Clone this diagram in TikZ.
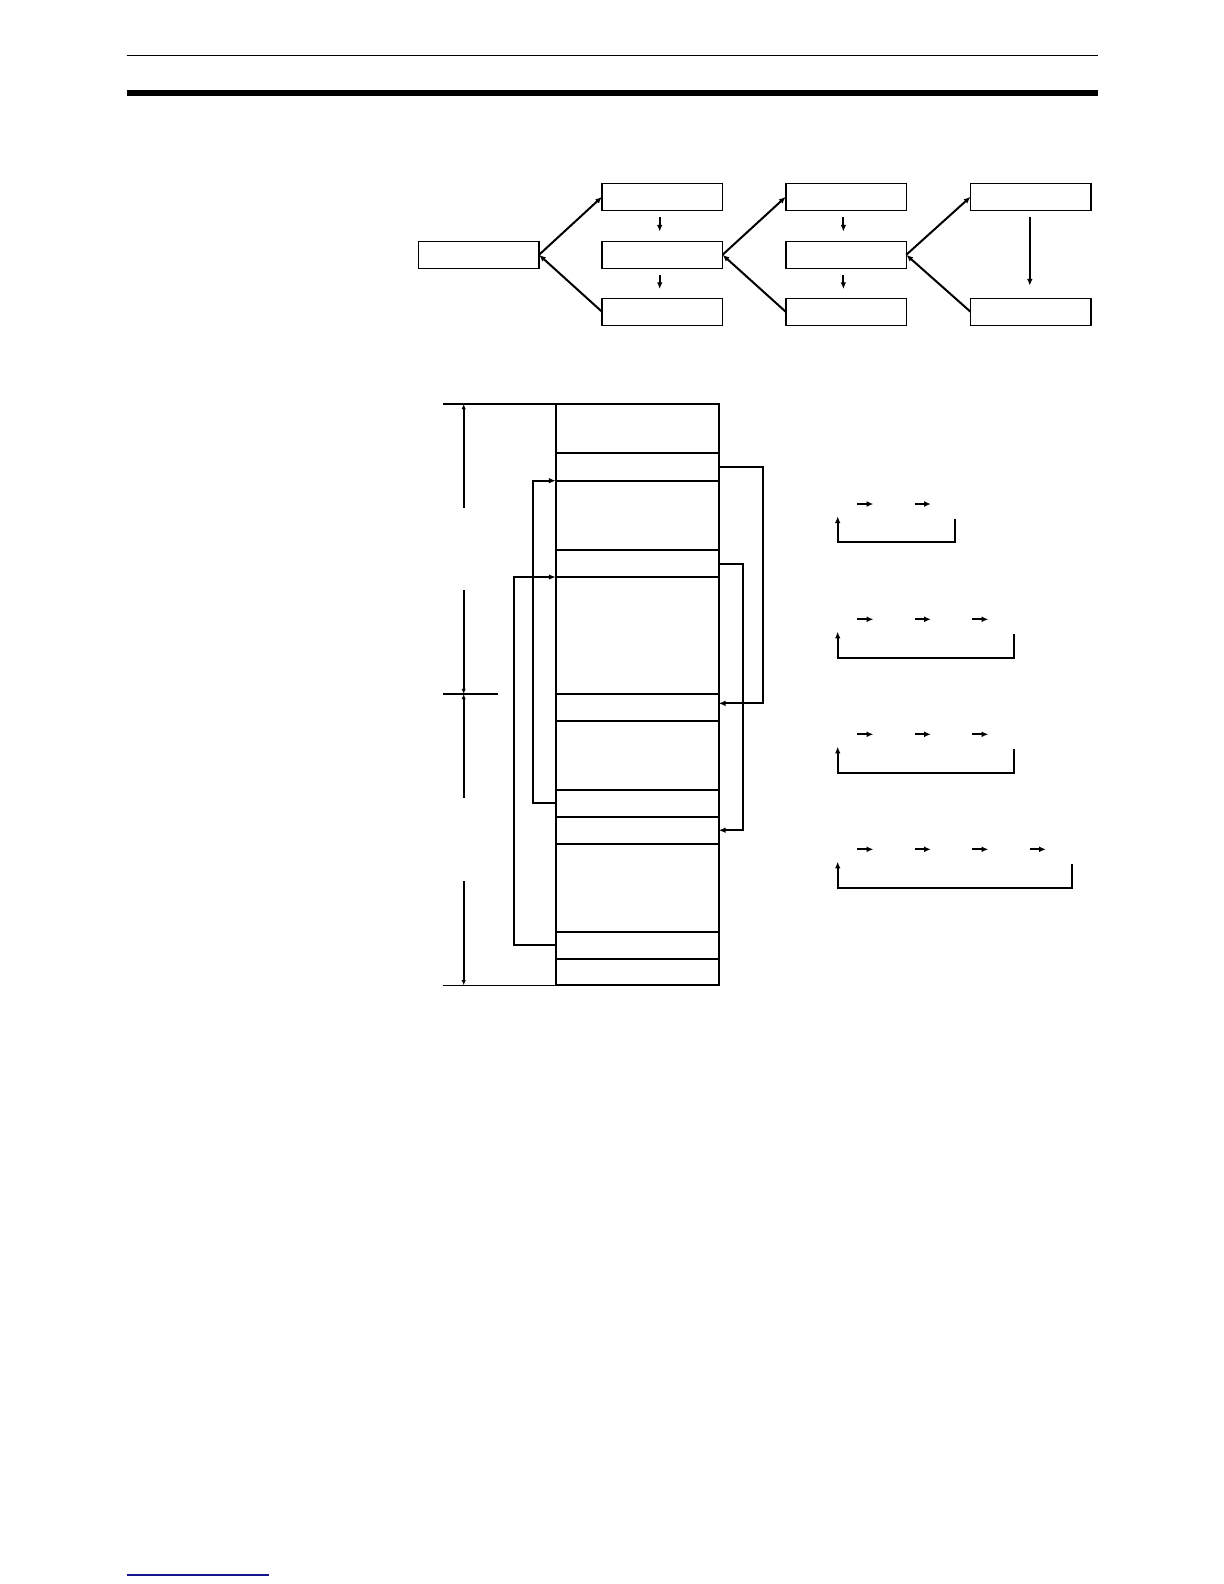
\documentclass[tikz,border=0pt]{standalone}
\usetikzlibrary{arrows.meta,fit,calc}
\definecolor{navy}{RGB}{20,20,140}
\tikzset{
  box/.style={draw, line width=0.75pt, minimum width=60.25pt, minimum height=13.5pt, inner sep=0pt, outer sep=0pt},
  row/.style={draw, line width=1.15pt, inner sep=0pt, outer sep=0pt},
  conn/.style={line width=1pt},
  tipA/.style={-{Latex[length=3.4pt,width=2.8pt]}},
  dimA/.style={line width=1pt,-{Latex[length=2.6pt,width=2.2pt]}},
  dimB/.style={line width=1pt,{Latex[length=2.6pt,width=2.2pt]}-},
  loop/.style={line width=1pt},
}
\begin{document}
\begin{tikzpicture}[x=0.5pt,y=-0.5pt]
\useasboundingbox (0,0) rectangle (1224,1584);
% header rules
\coordinate (h1l) at (126.7,55.3); \coordinate (h1r) at (1097.5,55.3);
\coordinate (h2l) at (126.7,93); \coordinate (h2r) at (1097.5,93);
\draw[line width=0.6pt] (h1l) -- (h1r);
\draw[line width=3pt] (h2l) -- (h2r);
% footer rule
\coordinate (f1) at (127,1575); \coordinate (f2) at (269,1575);
\draw[navy, line width=0.7pt] (f1) -- (f2);

% ---------- top diagram ----------
\node[box] (A) at (478.8,254.8) {};
\node[box] (c1t) at (662.3,196.8) {};
\node[box] (c1m) at (662.3,254.8) {};
\node[box] (c1b) at (662.3,311.8) {};
\node[box] (c2t) at (846,196.8) {};
\node[box] (c2m) at (846,254.8) {};
\node[box] (c2b) at (846,311.8) {};
\node[box] (c3t) at (1030.8,196.8) {};
\node[box] (c3b) at (1030.8,311.8) {};

\draw[conn,tipA] (A.east) -- (c1t.west);
\draw[conn,tipA] (c1b.west) -- (A.east);
\draw[conn,tipA] (c1m.east) -- (c2t.west);
\draw[conn,tipA] (c2b.west) -- (c1m.east);
\draw[conn,tipA] (c2m.east) -- (c3t.west);
\draw[conn,tipA] (c3b.west) -- (c2m.east);

\draw[conn,tipA] ([xshift=-1.3pt,yshift=-3.5pt]c1t.south) -- ([xshift=-1.3pt,yshift=4.8pt]c1m.north);
\draw[conn,tipA] ([xshift=-1.3pt,yshift=-3.5pt]c1m.south) -- ([xshift=-1.3pt,yshift=4.6pt]c1b.north);
\draw[conn,tipA] ([xshift=-1.3pt,yshift=-3.5pt]c2t.south) -- ([xshift=-1.3pt,yshift=4.8pt]c2m.north);
\draw[conn,tipA] ([xshift=-1.3pt,yshift=-3.5pt]c2m.south) -- ([xshift=-1.3pt,yshift=4.6pt]c2b.north);
\draw[conn,tipA] ([xshift=-0.5pt,yshift=-3.5pt]c3t.south) -- ([xshift=-0.5pt,yshift=6.3pt]c3b.north);

% ---------- memory stack ----------
\node[row, fit={(555.7,404)(718.7,453.3)}] (r1) {};
\node[row, fit={(555.7,453.3)(718.7,480.7)}] (r2) {};
\node[row, fit={(555.7,480.7)(718.7,550)}] (r3) {};
\node[row, fit={(555.7,550)(718.7,577)}] (r4) {};
\node[row, fit={(555.7,577)(718.7,694)}] (r5) {};
\node[row, fit={(555.7,694)(718.7,720.7)}] (r6) {};
\node[row, fit={(555.7,720.7)(718.7,789.7)}] (r7) {};
\node[row, fit={(555.7,789.7)(718.7,816.7)}] (r8) {};
\node[row, fit={(555.7,816.7)(718.7,843.7)}] (r9) {};
\node[row, fit={(555.7,843.7)(718.7,932)}] (r10) {};
\node[row, fit={(555.7,932)(718.7,958.7)}] (r11) {};
\node[row, fit={(555.7,958.7)(718.7,985.3)}] (r12) {};

% loops on the left
\coordinate (L1) at (533.3,0);
\coordinate (L2) at (514.3,0);
\draw[loop,tipA] (r8.west) -- (r8.west -| L1) -- (r3.north west -| L1) -- (r3.north west);
\draw[loop,tipA] (r11.west) -- (r11.west -| L2) -- (r5.north west -| L2) -- (r5.north west);
% loops on the right
\coordinate (R1) at (763,0);
\coordinate (R2) at (742.7,0);
\draw[loop,tipA] (r2.east) -- (r2.east -| R1) -- ([yshift=2pt]r6.east -| R1) -- ([yshift=2pt]r6.east);
\draw[loop,tipA] (r4.east) -- (r4.east -| R2) -- (r9.east -| R2) -- (r9.east);

% dimension lines
\coordinate (d0a) at (443,404);
\coordinate (d1a) at (443,694); \coordinate (d1b) at (498,694);
\coordinate (d2a) at (443,985.3);
\draw[line width=0.75pt] (d0a) -- (r1.north west);
\draw[line width=0.75pt] (d2a) -- (r12.south west);
\draw[line width=0.75pt] (d1a) -- (d1b);
\coordinate (v0) at (463.7,404);
\coordinate (v1) at (463.7,508.3);
\coordinate (v2) at (463.7,590);
\coordinate (v3) at (463.7,694);
\coordinate (v4) at (463.7,798.3);
\coordinate (v5) at (463.7,881);
\coordinate (v6) at (463.7,985.3);
\draw[dimB] (v0) -- (v1);
\draw[dimA] (v2) -- (v3);
\draw[dimB] (v3) -- (v4);
\draw[dimA] (v5) -- (v6);

% ---------- small cycle diagrams ----------
\foreach \base/\n/\rx in {504/2/955, 619.3/3/1014.3, 734.3/3/1014.3, 849.3/4/1072}{
  \foreach \k in {1,...,\n}{
    \draw[line width=1.1pt,-{Latex[length=3.4pt,width=3pt]}] ({857.3+57.5*(\k-1)},\base) -- ({873.3+57.5*(\k-1)},\base);
  }
  \draw[line width=1pt,-{Latex[length=3.4pt,width=2.8pt]}] (\rx,{\base+14.5}) -- (\rx,{\base+38.3}) -- (837.7,{\base+38.3}) -- (837.7,{\base+12.3});
}
\end{tikzpicture}
\end{document}
